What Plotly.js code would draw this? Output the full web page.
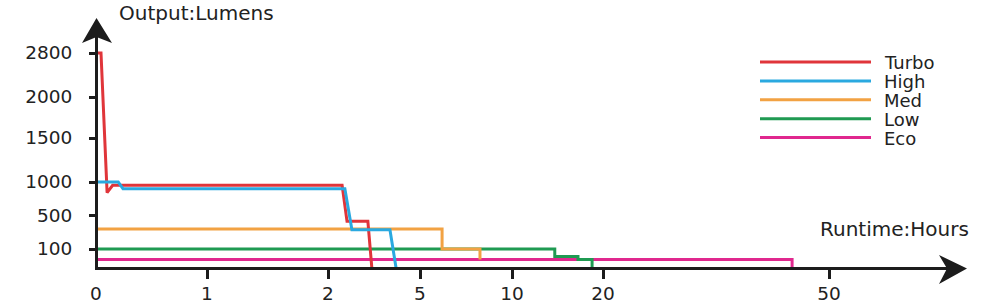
<!DOCTYPE html>
<html>
<head>
<meta charset="utf-8">
<script src="https://cdn.plot.ly/plotly-3.0.1.min.js"></script>
<style>html,body{margin:0;padding:0;background:#fff;}#chart{width:1000px;height:303px;}</style>
</head>
<body>
<div id="chart"></div>
<script>
// ---- data ----
const seriesNames = ['Turbo', 'High', 'Med', 'Low', 'Eco'];
const turboHours  = [0, 0.045, 0.10, 0.15, 2.46, 2.62, 3.30, 3.43];
const turboLumens = [2800, 2800, 840, 950, 950, 430, 430, 0];
const highHours   = [0, 0.20, 0.243, 2.55, 2.78, 4.02, 4.22];
const highLumens  = [1000, 1000, 900, 900, 330, 330, 0];
const medHours    = [0, 6.2, 6.2, 8.26, 8.26];
const medLumens   = [340, 340, 100, 100, 45];
const lowHours    = [0, 14.7, 14.7, 17.25, 17.25, 18.8, 18.8];
const lowLumens   = [100, 100, 60, 60, 45, 45, 0];
const ecoHours    = [0, 45.1, 45.1];
const ecoLumens   = [45, 45, 0];
const xTickHours  = [0, 1, 2, 5, 10, 20, 50];
const yTickLumens = [100, 500, 1000, 1500, 2000, 2800];

// ---- styling / scale configuration ----
const colors = ['#e0353a', '#2aa9e0', '#f2a243', '#1f9a52', '#e0288e'];
const FONT = 'DejaVu Sans';
const PLOT = {l: 96, r: 33, t: 18, b: 35, w: 1000, h: 303};
const PW = PLOT.w - PLOT.l - PLOT.r, PH = PLOT.h - PLOT.t - PLOT.b;
// the chart's own (hand-made, non-uniform) axis scales: value breakpoints -> axis units
const X_SCALE = {v: [0, 1, 2, 5, 10, 20, 50], u: [0, 111, 232, 324, 416, 507, 733]};
const Y_SCALE = {v: [0, 100, 500, 1000, 1500, 2000, 2800], u: [0, 19, 52.5, 86, 130, 171, 215]};
function piecewise(val, s) {
  const n = s.v.length;
  let i = 0;
  while (i < n - 2 && val > s.v[i + 1]) i++;
  const t = (val - s.v[i]) / (s.v[i + 1] - s.v[i]);
  return s.u[i] + t * (s.u[i + 1] - s.u[i]);
}
const sx = v => piecewise(v, X_SCALE);
const sy = v => piecewise(v, Y_SCALE);
// pixel -> paper helpers for decorations
const px = x => (x - PLOT.l) / PW;
const py = y => (PLOT.h - PLOT.b - y) / PH;

const series = [
  {h: turboHours, l: turboLumens},
  {h: highHours, l: highLumens},
  {h: medHours, l: medLumens},
  {h: lowHours, l: lowLumens},
  {h: ecoHours, l: ecoLumens}
];
const drawOrder = [4, 3, 2, 0, 1];
const traces = drawOrder.map(i => ({
  type: 'scatter', mode: 'lines', name: seriesNames[i],
  x: series[i].h.map(sx), y: series[i].l.map(sy),
  line: {color: colors[i], width: 3}, showlegend: false, hoverinfo: 'skip'
}));
traces.push({type: 'scatter', x: [], y: [], xaxis: 'x2', showlegend: false});

const axisColor = '#1c1c1c';
const shapes = [
  // axis lines
  {type: 'line', xref: 'paper', yref: 'paper', x0: px(96.5), x1: px(948), y0: py(268.5), y1: py(268.5), line: {color: axisColor, width: 3}},
  {type: 'line', xref: 'paper', yref: 'paper', x0: px(96.5), x1: px(96.5), y0: py(270), y1: py(36), line: {color: axisColor, width: 3}},
];
function pathFrom(pts) {
  return 'M' + pts.map(p => px(p[0]) + ',' + py(p[1])).join('L') + 'Z';
}
shapes.push({type: 'path', xref: 'paper', yref: 'paper', path: pathFrom([[967, 268.5], [939, 255], [947, 268.5], [939, 284]]), fillcolor: axisColor, line: {width: 0}});
shapes.push({type: 'path', xref: 'paper', yref: 'paper', path: pathFrom([[96.5, 18], [82, 43], [96.5, 37], [112, 43]]), fillcolor: axisColor, line: {width: 0}});

const annotations = [
  {xref: 'paper', yref: 'paper', x: px(196.5), y: py(13), xanchor: 'center', yanchor: 'middle', text: 'Output:Lumens', showarrow: false, font: {family: FONT, size: 20, color: '#222'}},
  {xref: 'paper', yref: 'paper', x: px(894), y: py(229), xanchor: 'center', yanchor: 'middle', text: 'Runtime:Hours', showarrow: false, font: {family: FONT, size: 20, color: '#222'}}
];
// legend (custom, long line samples as in the reference)
const LEG = {x0: 760, x1: 871, tx: 882, y0: 62, dy: 18.9};
seriesNames.forEach((n, i) => {
  const y = LEG.y0 + i * LEG.dy;
  shapes.push({type: 'line', xref: 'paper', yref: 'paper', x0: px(LEG.x0), x1: px(LEG.x1), y0: py(y), y1: py(y), line: {color: colors[i], width: 3}});
  annotations.push({xref: 'paper', yref: 'paper', x: px(LEG.tx), y: py(y + 0.5), xanchor: 'left', yanchor: 'middle', text: n, showarrow: false, font: {family: FONT, size: 18, color: '#222'}});
});

const layout = {
  width: PLOT.w, height: PLOT.h,
  margin: {l: PLOT.l, r: PLOT.r, t: PLOT.t, b: PLOT.b, pad: 0},
  paper_bgcolor: '#fff', plot_bgcolor: 'rgba(0,0,0,0)',
  showlegend: false,
  font: {family: FONT, color: '#222'},
  xaxis: {range: [0, PW], fixedrange: true, showgrid: false, zeroline: false, showline: false,
    tickmode: 'array', tickvals: xTickHours.map(sx), ticktext: xTickHours.map(String),
    ticks: '', tickfont: {family: FONT, size: 18.5, color: '#222'}, ticklabelstandoff: 12},
  xaxis2: {overlaying: 'x', anchor: 'y', side: 'bottom', range: [0, PW], fixedrange: true, showgrid: false, zeroline: false, showline: false,
    tickmode: 'array', tickvals: xTickHours.filter(v => v > 0).map(sx), showticklabels: false,
    ticks: 'outside', ticklen: 10, tickwidth: 3, tickcolor: axisColor},
  yaxis: {range: [0, PH], fixedrange: true, showgrid: false, zeroline: false, showline: false,
    tickmode: 'array', tickvals: yTickLumens.map(sy), ticktext: yTickLumens.map(String),
    ticks: 'outside', ticklen: 6, tickwidth: 3, tickcolor: axisColor,
    tickfont: {family: FONT, size: 18.5, color: '#222'}, ticklabelstandoff: 13},
  shapes: shapes,
  annotations: annotations
};
Plotly.newPlot('chart', traces, layout, {displayModeBar: false, staticPlot: true});
</script>
</body>
</html>
